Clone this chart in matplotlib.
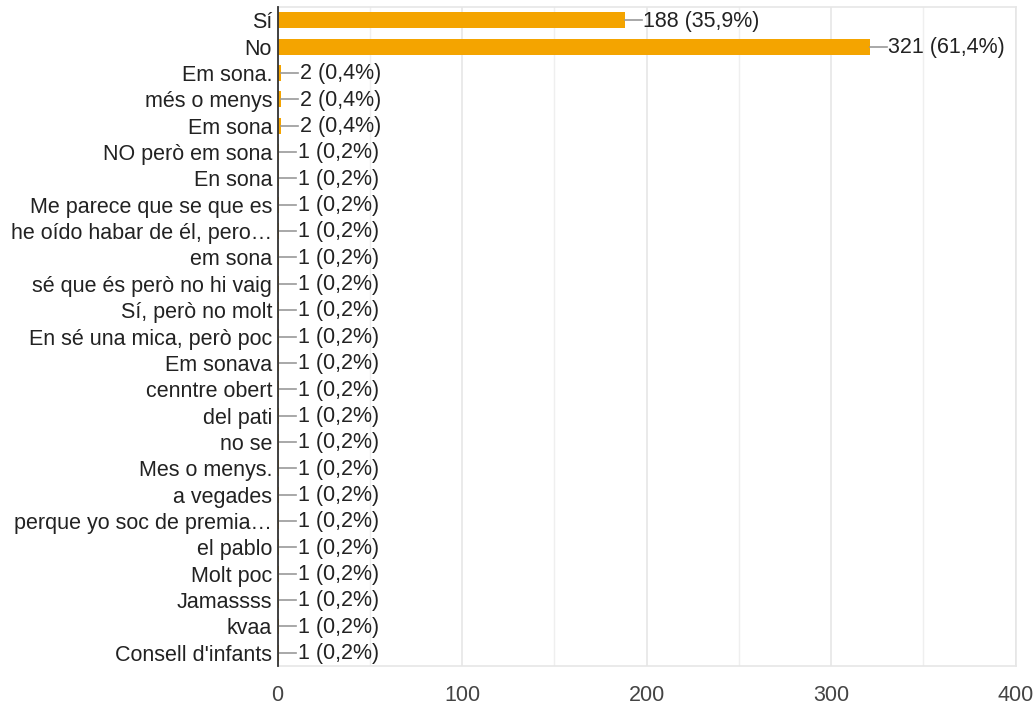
import matplotlib
matplotlib.use("Agg")
import matplotlib.pyplot as plt
from matplotlib.ticker import MultipleLocator
from matplotlib.lines import Line2D

categories = [
    "Sí", "No", "Em sona.", "més o menys", "Em sona", "NO però em sona",
    "En sona", "Me parece que se que es", "he oído habar de él, pero…",
    "em sona", "sé que és però no hi vaig", "Sí, però no molt",
    "En sé una mica, però poc", "Em sonava", "cenntre obert", "del pati",
    "no se", "Mes o menys.", "a vegades", "perque yo soc de premia…",
    "el pablo", "Molt poc", "Jamassss", "kvaa", "Consell d'infants",
]
values = [188, 321, 2, 2, 2, 1, 1, 1, 1, 1, 1, 1, 1, 1, 1, 1, 1, 1, 1, 1, 1, 1, 1, 1, 1]
percents = ["35,9%", "61,4%", "0,4%", "0,4%", "0,4%"] + ["0,2%"] * 20
x_ticks = [0, 100, 200, 300, 400]

plt.rcParams['font.family'] = ['Liberation Sans', 'DejaVu Sans']

fig = plt.figure(figsize=(10.36, 7.07), dpi=100)
ax = fig.add_axes([0.268, 0.058, 0.7124, 0.932])

ypos = list(range(len(categories)))
ax.barh(ypos, values, height=0.6, color="#f4a400", zorder=3)
ax.set_ylim(len(categories) - 0.5, -0.5)
ax.set_xlim(0, 400)

ax.set_yticks(ypos)
ax.set_yticklabels(categories, fontsize=15.5, color="#222222")
ax.set_xticks(x_ticks)
ax.set_xticklabels([str(t) for t in x_ticks], fontsize=15.5, color="#444444")
ax.xaxis.set_minor_locator(MultipleLocator(50))
ax.tick_params(axis="y", length=0, pad=4)
ax.tick_params(axis="x", which="both", length=0, pad=14)

ax.grid(axis="x", which="major", color="#e6e6e6", linewidth=1.2, zorder=0)
ax.grid(axis="x", which="minor", color="#efefef", linewidth=1.0, zorder=0)

for side in ["top", "right", "bottom"]:
    ax.spines[side].set_color("#e6e6e6")
    ax.spines[side].set_linewidth(1.2)
ax.spines["left"].set_color("#333333")
ax.spines["left"].set_linewidth(1.3)
ax.spines["left"].set_zorder(4)

# connector lines and value labels (offsets in pixels)
px = 400 / (0.7124 * 1036)
for y, v, p in zip(ypos, values, percents):
    ax.add_line(Line2D([v, v + 17 * px], [y, y], color="#999999", linewidth=1.2, zorder=4))
    ax.text(v + 18.5 * px, y + 0.03, f"{v} ({p})", va="center", ha="left",
            fontsize=15.5, color="#222222", zorder=5)

fig.savefig("out.png", dpi=100)
